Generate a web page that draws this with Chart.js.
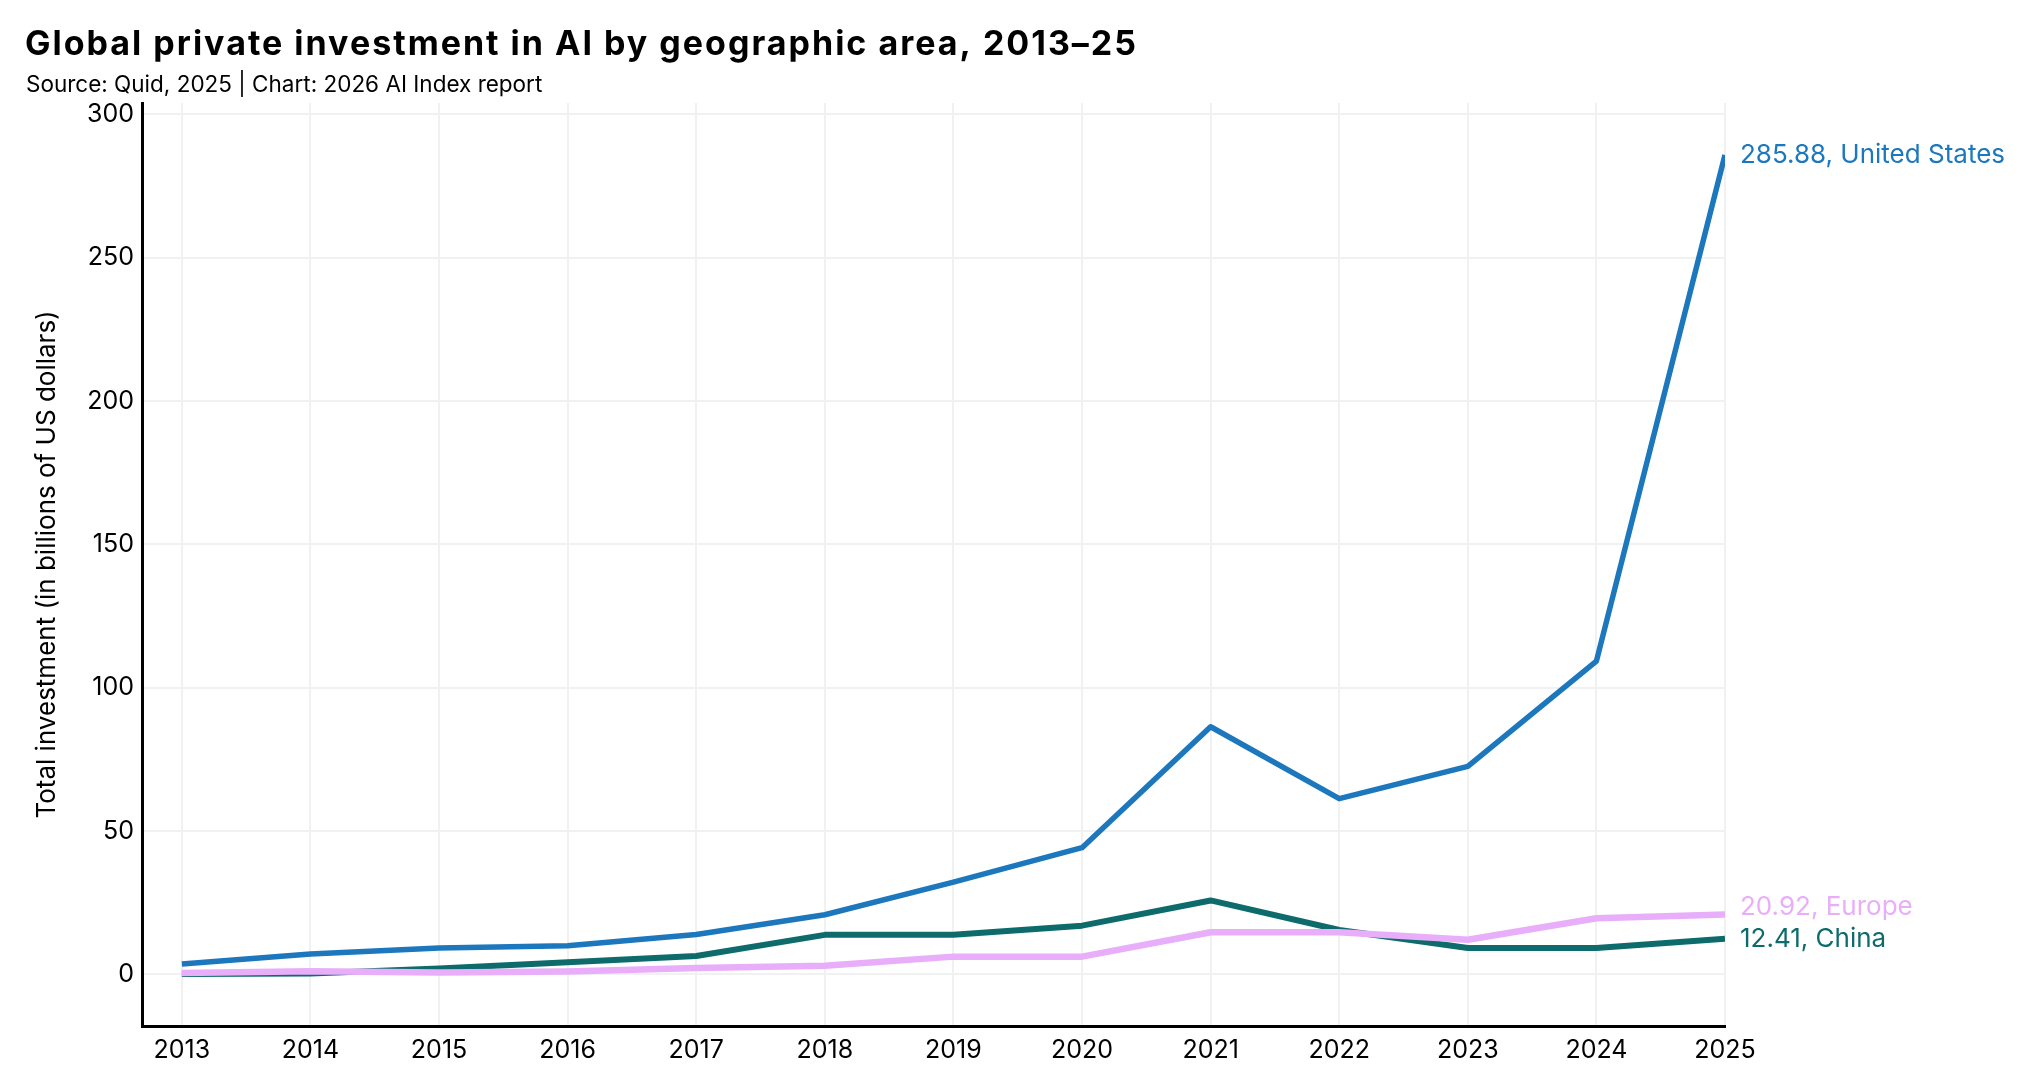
<!DOCTYPE html>
<html>
<head>
<meta charset="utf-8">
<script src="https://cdn.jsdelivr.net/npm/chart.js@4.4.1/dist/chart.umd.min.js"></script>
<style>
    html, body { margin: 0; padding: 0; background: #fff; }
    canvas { display: block; }
</style>
</head>
<body>
<canvas id="aiInvestChart" width="2023" height="1074"></canvas>
<script>
// Years on the x axis
const years = [2013, 2014, 2015, 2016, 2017, 2018, 2019, 2020, 2021, 2022, 2023, 2024, 2025];
// Private investment, billions of US dollars
const unitedStates = [3.6, 7.1, 9.2, 10.0, 13.9, 20.8, 32.2, 44.2, 86.4, 61.3, 72.6, 109.3, 285.88];
const europe = [0.5, 1.1, 0.7, 1.0, 2.2, 3.0, 6.2, 6.2, 14.7, 14.7, 12.1, 19.6, 20.92];
const china = [0.1, 0.3, 2.1, 4.2, 6.4, 13.8, 13.8, 17.0, 25.8, 15.5, 9.2, 9.2, 12.41];
// Y tick values shown
const yTicks = [0, 50, 100, 150, 200, 250, 300];

const chartTitle = 'Global private investment in AI by geographic area, 2013–25';
const chartSource = 'Source: Quid, 2025 | Chart: 2026 AI Index report';

const FONT = 'Inter, "Noto Sans", sans-serif';

const toPoints = vals => vals.map((v, i) => ({ x: years[i], y: v }));

// Title + source line, drawn by hand so the letter spacing can be widened
const headerText = {
    id: 'headerText',
    afterDraw(chart) {
        const ctx = chart.ctx;
        ctx.save();
        ctx.fillStyle = '#000';
        ctx.textAlign = 'left';
        ctx.textBaseline = 'alphabetic';
        ctx.font = 'bold 34px ' + FONT;
        ctx.letterSpacing = '2px';
        ctx.fillText(chartTitle, 25, 55);
        ctx.font = '22.5px ' + FONT;
        ctx.letterSpacing = '0px';
        ctx.fillText(chartSource, 26, 92);
        ctx.restore();
    }
};

// Writes "value, name" at the end of each line
const endLabels = {
    id: 'endLabels',
    afterDatasetsDraw(chart) {
        const ctx = chart.ctx;
        ctx.save();
        ctx.font = '26px ' + FONT;
        ctx.textAlign = 'left';
        ctx.textBaseline = 'middle';
        chart.data.datasets.forEach((ds, i) => {
            const meta = chart.getDatasetMeta(i);
            const last = meta.data[meta.data.length - 1];
            const value = ds.data[ds.data.length - 1].y;
            ctx.fillStyle = ds.borderColor;
            ctx.fillText(value.toFixed(2) + ', ' + ds.label, last.x + 15, last.y + (ds.labelShift || 0));
        });
        ctx.restore();
    }
};

const ctx = document.getElementById('aiInvestChart').getContext('2d');
new Chart(ctx, {
    type: 'line',
    data: {
        datasets: [{
            label: 'United States',
            data: toPoints(unitedStates),
            borderColor: '#1c77bd',
            borderWidth: 5.5
        }, {
            label: 'Europe',
            data: toPoints(europe),
            borderColor: '#e8aefa',
            borderWidth: 6.5,
            labelShift: -7 // nudge up so it clears China
        }, {
            label: 'China',
            data: toPoints(china),
            borderColor: '#0d6b6c',
            borderWidth: 6
        }]
    },
    options: {
        responsive: false,
        devicePixelRatio: 1,
        animation: false,
        layout: {
            padding: { left: 26, right: 298, top: 103, bottom: 0 }
        },
        elements: {
            point: { radius: 0 },
            line: { tension: 0, borderJoinStyle: 'round', borderCapStyle: 'butt' }
        },
        plugins: {
            legend: { display: false },
            tooltip: { enabled: false },
            title: { display: false }
        },
        scales: {
            x: {
                type: 'linear',
                min: 2012.69,
                max: 2025,
                afterBuildTicks: axis => {
                    axis.ticks = years.map(y => ({ value: y }));
                },
                afterFit: axis => { axis.height = 48; },
                ticks: {
                    color: '#000',
                    font: { family: FONT, size: 25 },
                    padding: 9,
                    maxRotation: 0,
                    autoSkip: false,
                    callback: v => String(v)
                },
                grid: { color: '#f1f1f1', lineWidth: 2, drawTicks: false },
                border: { color: '#000', width: 3 }
            },
            y: {
                min: -18,
                max: 304,
                afterBuildTicks: axis => {
                    axis.ticks = yTicks.map(v => ({ value: v }));
                },
                afterFit: axis => { axis.width = 116; },
                ticks: {
                    color: '#000',
                    font: { family: FONT, size: 25 },
                    padding: 8
                },
                grid: { color: '#f1f1f1', lineWidth: 2, drawTicks: false },
                border: { color: '#000', width: 3 },
                title: {
                    display: true,
                    text: 'Total investment (in billions of US dollars)',
                    color: '#000',
                    font: { family: FONT, size: 26, lineHeight: 1.2 },
                    padding: { top: 6, bottom: 0 }
                }
            }
        }
    },
    plugins: [headerText, endLabels]
});
</script>
</body>
</html>
